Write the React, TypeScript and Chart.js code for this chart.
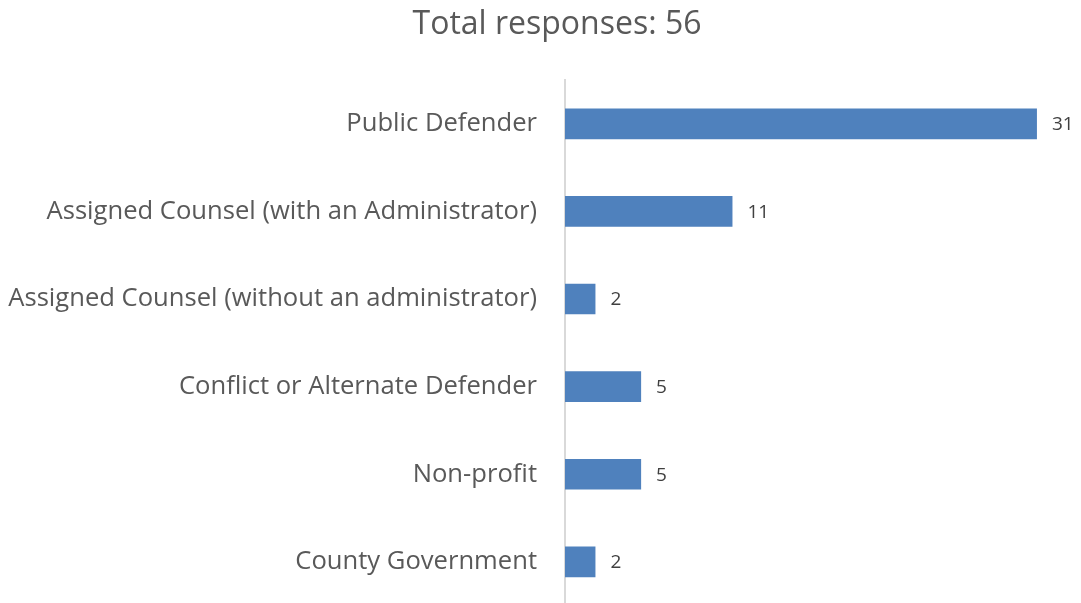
import React, { useEffect, useRef } from "react";
import { Chart, registerables } from "chart.js";

Chart.register(...registerables);

const categories = [
  "Public Defender",
  "Assigned Counsel (with an Administrator)",
  "Assigned Counsel (without an administrator)",
  "Conflict or Alternate Defender",
  "Non-profit",
  "County Government",
];
const responses = [31, 11, 2, 5, 5, 2];
const titleText = "Total responses: 56";

const FONT = "'Open Sans', sans-serif";

export default function App() {
  const ref = useRef<HTMLCanvasElement | null>(null);
  useEffect(() => {
    if (!ref.current) return;
    const titlePlugin = {
      id: "customTitle",
      afterDraw(chart: any) {
        const ctx = chart.ctx;
        ctx.save();
        ctx.font = `32px ${FONT}`;
        ctx.fillStyle = "#595959";
        ctx.textAlign = "center";
        ctx.textBaseline = "middle";
        ctx.fillText(titleText, 557, 25);
        ctx.restore();
      },
    };
    const labelPlugin = {
      id: "valueLabels",
      afterDatasetsDraw(chart: any) {
        const ctx = chart.ctx;
        const meta = chart.getDatasetMeta(0);
        ctx.save();
        ctx.font = `19px ${FONT}`;
        ctx.fillStyle = "#404040";
        ctx.textAlign = "left";
        ctx.textBaseline = "middle";
        meta.data.forEach((bar: any, i: number) => {
          ctx.fillText(String(responses[i]), bar.x + 15, bar.y + 1);
        });
        ctx.restore();
      },
    };
    const chart = new Chart(ref.current, {
      type: "bar",
      data: {
        labels: categories,
        datasets: [
          {
            data: responses,
            backgroundColor: "#4F81BD",
            borderWidth: 0,
            barPercentage: 0.7,
            categoryPercentage: 0.5,
          },
        ],
      },
      options: {
        indexAxis: "y",
        animation: false,
        responsive: true,
        maintainAspectRatio: false,
        layout: { padding: { top: 80, bottom: 5, right: 6, left: 0 } },
        plugins: {
          legend: { display: false },
          title: { display: false },
          tooltip: { enabled: false },
        },
        scales: {
          x: { display: false, min: 0, max: 33.5 },
          y: {
            afterFit(scale: any) {
              scale.width = 565;
            },
            grid: { display: false, drawTicks: false },
            border: { display: true, color: "#D9D9D9", width: 2 },
            ticks: { padding: 28, color: "#595959", font: { family: FONT, size: 25.6 } },
          },
        },
      },
      plugins: [titlePlugin, labelPlugin],
    });
    return () => chart.destroy();
  }, []);
  return (
    <div style={{ position: "absolute", left: 0, top: 0, width: 1081, height: 603, overflow: "hidden", background: "#fff" }}>
      <div style={{ position: "relative", width: 1081, height: 649 }}>
        <canvas ref={ref} />
      </div>
    </div>
  );
}
